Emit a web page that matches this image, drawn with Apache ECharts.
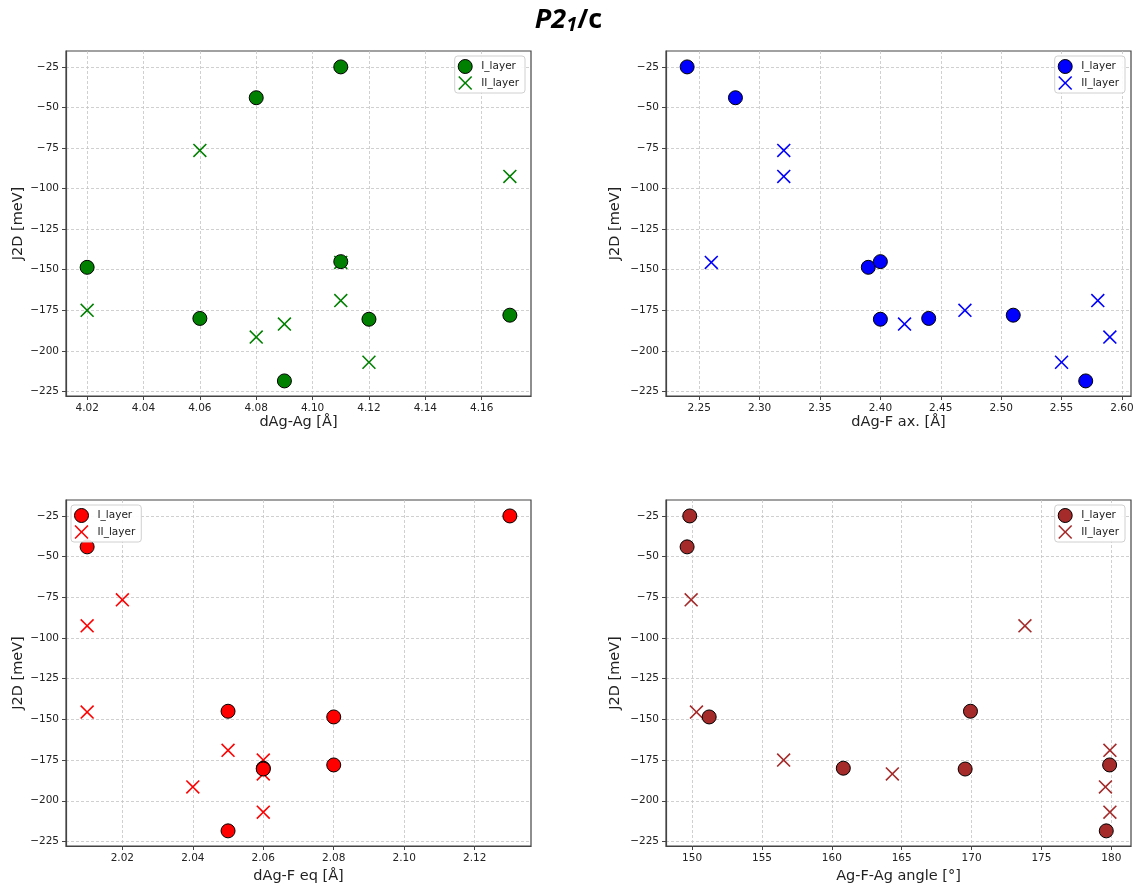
<!DOCTYPE html>
<html>
<head>
<meta charset="utf-8">
<script src="https://cdn.jsdelivr.net/npm/echarts@6/dist/echarts.min.js"></script>
<style>
html,body{margin:0;padding:0;background:#fff;}
#chart{width:1137px;height:889px;}
</style>
</head>
<body>
<div id="chart"></div>
<script>
// ---- data ----
const SERIES_NAMES = ['I_layer', 'II_layer'];

// J2D values [meV]
const J_I  = [-25, -44, -148.5, -145, -180, -180.5, -178, -218.5];
const J_II = [-76.5, -92.5, -145.5, -169, -175, -183.5, -191.5, -207];

// dAg-Ag [Å]
const DAGAG_I  = [4.11, 4.08, 4.02, 4.11, 4.06, 4.12, 4.17, 4.09];
const DAGAG_II = [4.06, 4.17, 4.11, 4.11, 4.02, 4.09, 4.08, 4.12];

// dAg-F ax. [Å]
const DAGFAX_I  = [2.24, 2.28, 2.39, 2.40, 2.44, 2.40, 2.51, 2.57];
const DAGFAX_II = [2.32, 2.32, 2.26, 2.58, 2.47, 2.42, 2.59, 2.55];

// dAg-F eq [Å]
const DAGFEQ_I  = [2.13, 2.01, 2.08, 2.05, 2.06, 2.06, 2.08, 2.05];
const DAGFEQ_II = [2.02, 2.01, 2.01, 2.05, 2.06, 2.06, 2.04, 2.06];

// Ag-F-Ag angle [°]
const ANGLE_I  = [149.83, 149.64, 151.22, 169.92, 160.82, 169.54, 179.88, 179.64];
const ANGLE_II = [149.93, 173.82, 150.31, 179.90, 156.55, 164.33, 179.58, 179.90];

// tick labels
const Y_TICKS = [-225, -200, -175, -150, -125, -100, -75, -50, -25];
const X_TICKS_AGAG = [4.02, 4.04, 4.06, 4.08, 4.10, 4.12, 4.14, 4.16];
const X_TICKS_FAX  = [2.25, 2.30, 2.35, 2.40, 2.45, 2.50, 2.55, 2.60];
const X_TICKS_FEQ  = [2.02, 2.04, 2.06, 2.08, 2.10, 2.12];
const X_TICKS_ANG  = [150, 155, 160, 165, 170, 175, 180];

const X_TITLES = ['dAg-Ag [Å]', 'dAg-F ax. [Å]', 'dAg-F eq [Å]', 'Ag-F-Ag angle [°]'];
const Y_TITLE = 'J2D [meV]';
const COLORS = ['#008000', '#0000ff', '#ff0000', '#a52a2a'];

// ---- chart construction ----
const zip = (xs, ys) => xs.map((x, i) => [x, ys[i]]);
const panels = [
  {xI: DAGAG_I, xII: DAGAG_II, ticks: X_TICKS_AGAG, min: 4.0125, max: 4.1775, dec: 2},
  {xI: DAGFAX_I, xII: DAGFAX_II, ticks: X_TICKS_FAX, min: 2.2225, max: 2.6075, dec: 2},
  {xI: DAGFEQ_I, xII: DAGFEQ_II, ticks: X_TICKS_FEQ, min: 2.004, max: 2.136, dec: 2},
  {xI: ANGLE_I, xII: ANGLE_II, ticks: X_TICKS_ANG, min: 148.13, max: 181.41, dec: 0}
];
const grids = [
  {left: 66, top: 51, width: 465, height: 345},
  {left: 666, top: 51, width: 465, height: 345},
  {left: 66, top: 500, width: 465, height: 346},
  {left: 666, top: 500, width: 465, height: 346}
];
const legendPos = [
  {right: 612, top: 56},
  {right: 12, top: 56},
  {left: 71, top: 505},
  {right: 12, top: 505}
];
const xNameGap = [15, 15, 23, 23];
const yNameGap = [40, 43, 40, 43];

const XPATH = 'path://M8,0 L50,42 L92,0 L100,8 L58,50 L100,92 L92,100 L50,58 L8,100 L0,92 L42,50 L0,8 Z';
const FONT = 'DejaVu Sans';
const fmtMinus = v => (v < 0 ? '\u2212' : '') + Math.abs(v);

const zw = n => '\u200b'.repeat(n);
const xAxis = [], yAxis = [], series = [], legend = [];
panels.forEach((p, i) => {
  xAxis.push({
    type: 'value', gridIndex: i, min: p.min, max: p.max,
    name: X_TITLES[i], nameLocation: 'middle', nameGap: xNameGap[i],
    nameTextStyle: {fontFamily: FONT, fontSize: 14.5, color: '#222', verticalAlign: 'top'},
    axisLine: {show: true, onZero: false, lineStyle: {color: '#444', width: 1.2}},
    axisTick: {show: true, length: 4, customValues: p.ticks, lineStyle: {color: '#444', width: 1}},
    axisLabel: {customValues: p.ticks, margin: 7, fontFamily: FONT, fontSize: 10.5, color: '#222',
      formatter: v => v.toFixed(p.dec)},
    splitLine: {show: true, lineStyle: {type: [3, 2], color: '#c4c4c4', width: 0.8}}
  });
  yAxis.push({
    type: 'value', gridIndex: i, min: -227.8, max: -15.2,
    name: Y_TITLE, nameLocation: 'middle', nameGap: yNameGap[i],
    nameTextStyle: {fontFamily: FONT, fontSize: 14.5, color: '#222'},
    axisLine: {show: true, onZero: false, lineStyle: {color: '#444', width: 1.2}},
    axisTick: {show: true, length: 4, customValues: Y_TICKS, lineStyle: {color: '#444', width: 1}},
    axisLabel: {customValues: Y_TICKS, margin: 7, fontFamily: FONT, fontSize: 10.5, color: '#222',
      formatter: fmtMinus},
    splitLine: {show: true, lineStyle: {type: [3, 2], color: '#c4c4c4', width: 0.8}}
  });
  const nI = SERIES_NAMES[0] + zw(i), nII = SERIES_NAMES[1] + zw(i);
  series.push({
    type: 'scatter', name: nII, xAxisIndex: i, yAxisIndex: i, z: 2,
    symbol: XPATH, symbolSize: 14,
    itemStyle: {color: COLORS[i], borderWidth: 0, opacity: 1},
    data: zip(p.xII, J_II)
  });
  series.push({
    type: 'scatter', name: nI, xAxisIndex: i, yAxisIndex: i, z: 3,
    symbol: 'circle', symbolSize: 14,
    itemStyle: {color: COLORS[i], borderColor: '#000', borderWidth: 1, opacity: 1},
    data: zip(p.xI, J_I)
  });
  legend.push(Object.assign({
    orient: 'vertical',
    data: [
      {name: nI, icon: 'circle', itemStyle: {color: COLORS[i], borderColor: '#000', borderWidth: 1}},
      {name: nII, icon: XPATH, itemStyle: {color: COLORS[i], borderWidth: 0}}
    ],
    formatter: n => n.replace(/\u200b/g, ''),
    itemWidth: 22, itemHeight: 14, itemGap: 2,
    padding: [3, 6, 3, 3],
    backgroundColor: 'rgba(255,255,255,0.9)', borderColor: '#d0d0d0', borderWidth: 1, borderRadius: 3,
    textStyle: {fontFamily: FONT, fontSize: 10.5, color: '#222'},
    selectedMode: false
  }, legendPos[i]));
});

const chart = echarts.init(document.getElementById('chart'), null, {renderer: 'canvas'});
chart.setOption({
  animation: false,
  backgroundColor: '#fff',
  title: {
    text: '{a|P2}{b|1}{c|/c}', left: 'center', top: 1,
    textStyle: {
      rich: {
        a: {fontFamily: 'Open Sans', fontSize: 27, fontWeight: 'bold', fontStyle: 'italic', color: '#000'},
        b: {fontFamily: 'Open Sans', fontSize: 20, fontWeight: 'bold', fontStyle: 'italic', color: '#000', padding: [9, 0, 0, 0]},
        c: {fontFamily: 'Open Sans', fontSize: 27, fontWeight: 'bold', color: '#000'}
      }
    }
  },
  grid: grids.map(g => Object.assign({show: true, borderColor: '#444', borderWidth: 1.2, backgroundColor: 'transparent', containLabel: false}, g)),
  xAxis, yAxis, series, legend
});
</script>
</body>
</html>
